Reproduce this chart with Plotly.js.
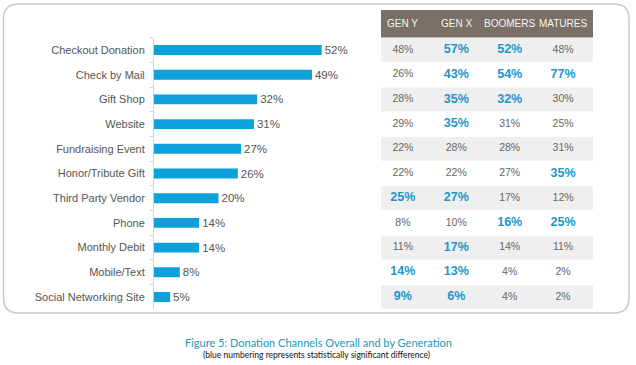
<!DOCTYPE html>
<html>
<head>
<meta charset="utf-8">
<script src="https://cdn.plot.ly/plotly-3.0.1.min.js"></script>
<style>html,body{margin:0;padding:0;background:#fff;}#chart{width:636px;height:365px;}</style>
</head>
<body>
<div id="chart"></div>
<script>
var channels = ["Checkout Donation","Check by Mail","Gift Shop","Website","Fundraising Event","Honor/Tribute Gift","Third Party Vendor","Phone","Monthly Debit","Mobile/Text","Social Networking Site"];
var overall = [52,49,32,31,27,26,20,14,14,8,5];
var generations = ["GEN Y","GEN X","BOOMERS","MATURES"];
var genY     = [48,26,28,29,22,22,25,8,11,14,9];
var genX     = [57,43,35,35,28,22,27,10,17,13,6];
var boomers  = [52,54,32,31,28,27,17,16,14,4,4];
var matures  = [48,77,30,25,31,35,12,25,11,2,2];
var sigGenY    = [0,0,0,0,0,0,1,0,0,1,1];
var sigGenX    = [1,1,1,1,0,0,1,0,1,1,1];
var sigBoomers = [1,1,1,0,0,0,0,1,0,0,0];
var sigMatures = [0,1,0,0,0,1,0,1,0,0,0];
var figTitle = "Figure 5: Donation Channels Overall and by Generation";
var figNote = "(blue numbering represents statistically significant difference)";

var W = 636, H = 365;
var FONT = "Liberation Sans, Arial, sans-serif";
var BLUE = "#0ea0da";
var SIGBLUE = "#1b96cd";

var traces = [{
  type: "bar", orientation: "h",
  x: overall, y: channels,
  xaxis: "x", yaxis: "y",
  marker: {color: BLUE},
  width: 0.4,
  text: overall.map(function(v){return v + "%";}),
  textposition: "outside",
  constraintext: "none",
  textfont: {family: FONT, size: 11.5, color: "#555"},
  cliponaxis: false,
  hoverinfo: "skip"
}];

var cols = [genY, genX, boomers, matures];
var sigs = [sigGenY, sigGenX, sigBoomers, sigMatures];
cols.forEach(function(vals, c){
  var s = sigs[c];
  traces.push({
    type: "scatter", mode: "text",
    x: vals.map(function(){return generations[c];}),
    y: channels,
    xaxis: "x2", yaxis: "y",
    text: vals.map(function(v,i){return s[i] ? "<b>" + v + "%</b>" : v + "%";}),
    textposition: "middle center",
    textfont: {
      family: FONT,
      size: s.map(function(f){return f ? 12.5 : 10.5;}),
      color: s.map(function(f){return f ? SIGBLUE : "#666";})
    },
    cliponaxis: false,
    hoverinfo: "skip",
    showlegend: false
  });
});

var tblL = 381/W, tblR = 593/W;
var shapes = [];
// outer rounded frame
(function(){
  var x0 = 3.5, x1 = 629, y0 = 4, y1 = 313, r = 15;
  function px(x){return x / W;} function py(y){return 1 - y / H;}
  var p = "M " + px(x0 + r) + "," + py(y0) +
          " L " + px(x1 - r) + "," + py(y0) +
          " Q " + px(x1) + "," + py(y0) + " " + px(x1) + "," + py(y0 + r) +
          " L " + px(x1) + "," + py(y1 - r) +
          " Q " + px(x1) + "," + py(y1) + " " + px(x1 - r) + "," + py(y1) +
          " L " + px(x0 + r) + "," + py(y1) +
          " Q " + px(x0) + "," + py(y1) + " " + px(x0) + "," + py(y1 - r) +
          " L " + px(x0) + "," + py(y0 + r) +
          " Q " + px(x0) + "," + py(y0) + " " + px(x0 + r) + "," + py(y0) + " Z";
  shapes.push({type: "path", xref: "paper", yref: "paper", path: p, line: {color: "#c9c9c9", width: 1.5}, layer: "below"});
})();
// header band
shapes.push({type: "rect", xref: "paper", yref: "paper", x0: tblL, x1: tblR, y0: 1 - 37.5/H, y1: 1 - 10/H, fillcolor: "#7b7068", line: {width: 0}, layer: "below"});
// alternating row bands
channels.forEach(function(ch, i){
  if (i % 2 === 0) {
    shapes.push({type: "rect", xref: "paper", yref: "y", x0: tblL, x1: tblR, y0: i - 0.48, y1: i + 0.48, fillcolor: "#efefef", line: {width: 0}, layer: "below"});
  }
});

var annotations = generations.map(function(g){
  return {xref: "x2", yref: "paper", x: g, y: 1 - 24/H, text: g, showarrow: false,
          font: {family: FONT, size: 10, color: "#f4f4f4"}, xanchor: "center", yanchor: "middle"};
});
annotations.push({xref: "paper", yref: "paper", x: 318/W, y: 1 - 342/H, text: figTitle, showarrow: false,
  font: {family: "Lato, Open Sans, sans-serif", size: 11, color: "#2399b5"}, xanchor: "center", yanchor: "middle"});
annotations.push({xref: "paper", yref: "paper", x: 316/W, y: 1 - 355/H, text: figNote, showarrow: false,
  font: {family: "Lato, Open Sans, sans-serif", size: 8.5, color: "#111"}, xanchor: "center", yanchor: "middle"});

var layout = {
  width: W, height: H,
  margin: {l: 0, r: 0, t: 0, b: 0},
  paper_bgcolor: "#fff", plot_bgcolor: "rgba(0,0,0,0)",
  showlegend: false,
  xaxis: {domain: [154/W, 370/W], range: [0, 67], visible: false, fixedrange: true},
  xaxis2: {domain: [376.2/W, 589.8/W], anchor: "y", type: "category", categoryarray: generations, categoryorder: "array", range: [-0.5, 3.5], visible: false},
  yaxis: {
    domain: [1 - 309.35/H, 1 - 37.65/H],
    type: "category", range: [10.5, -0.5],
    showline: true, linecolor: "#cfd3d8", linewidth: 1,
    ticks: "outside", ticklen: 3, tickcolor: "#cfd3d8", tickson: "boundaries",
    ticklabelstandoff: 6,
    tickfont: {family: FONT, size: 11, color: "#555"},
    showgrid: false, zeroline: false
  },
  shapes: shapes,
  annotations: annotations
};

Plotly.newPlot("chart", traces, layout, {displayModeBar: false, staticPlot: true});
</script>
</body>
</html>
